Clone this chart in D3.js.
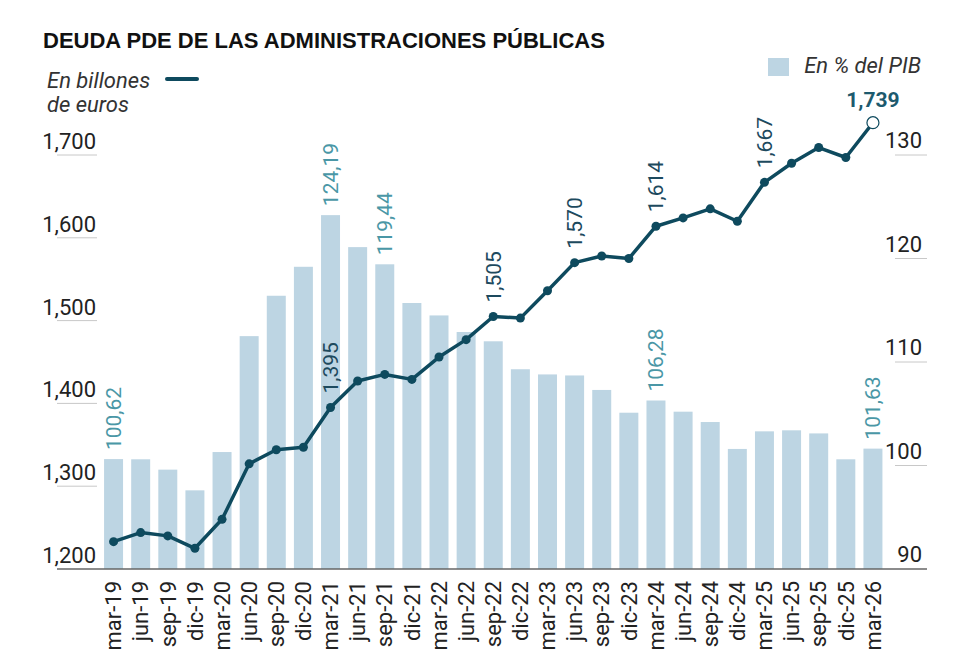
<!DOCTYPE html>
<meta charset="utf-8">
<script src="https://d3js.org/d3.v7.min.js"></script>
<style>
  body { margin: 0; background: #fff; }
  svg { font-family: Roboto, "Liberation Sans", sans-serif; }
</style>
<div id="vis"></div>
<script>

var periods = ["mar-19","jun-19","sep-19","dic-19","mar-20","jun-20","sep-20","dic-20",
  "mar-21","jun-21","sep-21","dic-21","mar-22","jun-22","sep-22","dic-22",
  "mar-23","jun-23","sep-23","dic-23","mar-24","jun-24","sep-24","dic-24",
  "mar-25","jun-25","sep-25","dic-25","mar-26"];

// deuda en billones de euros (linea, eje izquierdo)
var deuda = [1.233,1.244,1.240,1.225,1.260,1.327,1.344,1.347,
  1.395,1.427,1.435,1.429,1.456,1.477,1.505,1.503,
  1.536,1.570,1.578,1.575,1.614,1.624,1.635,1.620,
  1.667,1.690,1.709,1.697,1.739];

// deuda en % del PIB (barras, eje derecho)
var pib = [100.62,100.6,99.6,97.6,101.3,112.5,116.4,119.2,
  124.19,121.1,119.44,115.7,114.5,112.9,112.0,109.3,
  108.8,108.7,107.3,105.1,106.28,105.2,104.2,101.6,
  103.3,103.4,103.1,100.6,101.63];

var leftTicks = [1.2, 1.3, 1.4, 1.5, 1.6, 1.7];
var rightTicks = [90, 100, 110, 120, 130];

var pibLabels = ["mar-19","mar-21","sep-21","mar-24","mar-26"];
var deudaLabels = ["mar-21","sep-22","jun-23","mar-24","mar-25"];

var W = 965, H = 655;
var lineColor = "#0e4a5e", barColor = "#bdd5e3", teal = "#4a97a6";

var svg = d3.select("#vis").append("svg")
  .attr("width", W).attr("height", H);

var x = d3.scaleBand().domain(periods).range([100, 886.5])
  .paddingInner(0.3).paddingOuter(0.15);
var yL = d3.scaleLinear().domain([1.2, 1.7]).range([569, 155]);
var yR = d3.scaleLinear().domain([90, 130]).range([569, 155]);

var fmtL = function(v) { return d3.format(".3f")(v).replace(".", ","); };
var fmtR = function(v) { return d3.format(".2f")(v).replace(".", ","); };

// title
svg.append("text")
  .attr("x", 43).attr("y", 48)
  .style("font-family", "'Liberation Sans', Arial, sans-serif")
  .attr("font-size", 22).attr("font-weight", 700).attr("fill", "#111")
  .text("DEUDA PDE DE LAS ADMINISTRACIONES PÚBLICAS");

// legends
var lg = svg.append("g").attr("fill", "#333").attr("font-size", 22).attr("font-style", "italic");
lg.append("text").attr("x", 47).attr("y", 88).text("En billones");
lg.append("text").attr("x", 47).attr("y", 112).text("de euros");
svg.append("line").attr("x1", 167).attr("x2", 197).attr("y1", 79).attr("y2", 79)
  .attr("stroke", lineColor).attr("stroke-width", 4).attr("stroke-linecap", "round");
svg.append("rect").attr("x", 768).attr("y", 58).attr("width", 21).attr("height", 18)
  .attr("fill", barColor);
lg.append("text").attr("x", 921).attr("y", 73).attr("text-anchor", "end").text("En % del PIB");

// bars
svg.append("g").selectAll("rect").data(periods).enter().append("rect")
  .attr("x", d => x(d))
  .attr("width", x.bandwidth())
  .attr("y", (d, i) => yR(pib[i]))
  .attr("height", (d, i) => yR(90) - yR(pib[i]))
  .attr("fill", barColor);

// left ticks
var lt = svg.append("g").selectAll("g").data(leftTicks).enter().append("g");
lt.filter(d => d > 1.2).append("line")
  .attr("x1", 57).attr("x2", 97)
  .attr("y1", d => yL(d)).attr("y2", d => yL(d))
  .attr("stroke", "#c8c8c8").attr("stroke-width", 1);
lt.append("text")
  .attr("x", 96).attr("y", d => yL(d) - 6)
  .attr("text-anchor", "end").attr("font-size", 22).attr("fill", "#222")
  .text(d => d3.format(".3f")(d).replace(".", ","));

// right ticks
var rt = svg.append("g").selectAll("g").data(rightTicks).enter().append("g");
rt.filter(d => d > 90).append("line")
  .attr("x1", 895).attr("x2", 927)
  .attr("y1", d => yR(d)).attr("y2", d => yR(d))
  .attr("stroke", "#c8c8c8").attr("stroke-width", 1);
rt.append("text")
  .attr("x", 922).attr("y", d => yR(d) - 7)
  .attr("text-anchor", "end").attr("font-size", 22).attr("fill", "#222")
  .text(d => d);

// baseline
svg.append("line")
  .attr("x1", 57).attr("x2", 927).attr("y1", yL(1.2)).attr("y2", yL(1.2))
  .attr("stroke", "#666").attr("stroke-width", 1.5);

// x labels
svg.append("g").selectAll("text").data(periods).enter().append("text")
  .attr("transform", d => "translate(" + (x(d) + x.bandwidth() / 2) + ",581) rotate(-90)")
  .attr("text-anchor", "end").attr("dy", "0.35em")
  .attr("font-size", 22).attr("fill", "#222")
  .text(d => d);

// bar value labels
svg.append("g").selectAll("text").data(pibLabels).enter().append("text")
  .attr("transform", d => {
    var i = periods.indexOf(d);
    return "translate(" + (x(d) + x.bandwidth() / 2) + "," + (yR(pib[i]) - 9) + ") rotate(-90)";
  })
  .attr("dy", "0.35em").attr("font-size", 21).attr("fill", teal)
  .text(d => fmtR(pib[periods.indexOf(d)]));

// line
var cx = (d, i) => x(periods[i]) + x.bandwidth() / 2;
svg.append("path").datum(deuda)
  .attr("fill", "none").attr("stroke", lineColor).attr("stroke-width", 3.5)
  .attr("stroke-linejoin", "round")
  .attr("d", d3.line().x(cx).y(d => yL(d)));

svg.append("g").selectAll("circle").data(deuda.slice(0, -1)).enter().append("circle")
  .attr("cx", cx).attr("cy", d => yL(d)).attr("r", 4.5)
  .attr("fill", lineColor);

var last = deuda.length - 1;
svg.append("circle")
  .attr("cx", cx(deuda[last], last)).attr("cy", yL(deuda[last])).attr("r", 6)
  .attr("fill", "#fff").attr("stroke", lineColor).attr("stroke-width", 1.2);

// line value labels
svg.append("g").selectAll("text").data(deudaLabels).enter().append("text")
  .attr("transform", d => {
    var i = periods.indexOf(d);
    return "translate(" + cx(null, i) + "," + (yL(deuda[i]) - 14) + ") rotate(-90)";
  })
  .attr("dy", "0.35em").attr("font-size", 21).attr("fill", "#1d4a5e")
  .text(d => fmtL(deuda[periods.indexOf(d)]));

svg.append("text")
  .attr("x", cx(deuda[last], last)).attr("y", yL(deuda[last]) - 16)
  .attr("text-anchor", "middle").attr("font-size", 21).attr("font-weight", 700)
  .attr("fill", "#1d5a6e")
  .text(fmtL(deuda[last]));

</script>
